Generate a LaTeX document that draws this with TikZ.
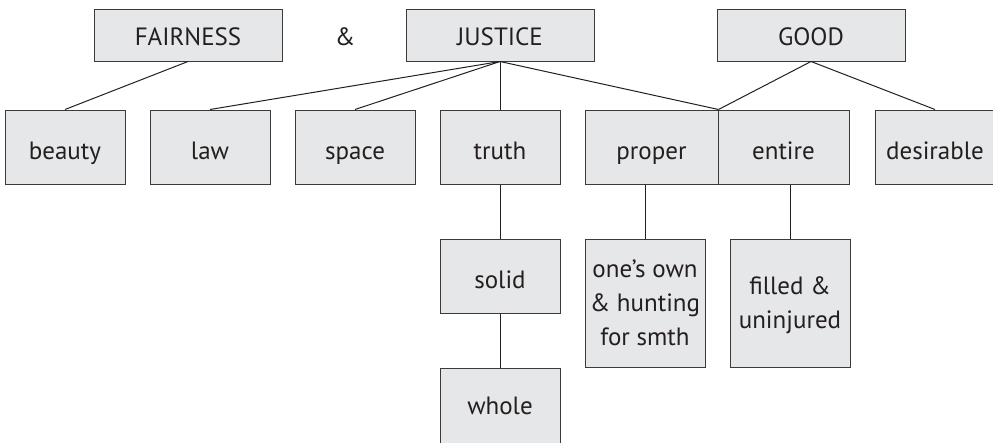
\documentclass[tikz,border=0pt]{standalone}
\usepackage{fontspec}
\setmainfont{PT Sans}
\definecolor{boxfill}{HTML}{E6E7E8}
\definecolor{boxline}{HTML}{3A3A3B}
\definecolor{ink}{HTML}{231F20}
\tikzset{
    basebox/.style={draw=boxline, fill=boxfill, line width=1pt, rectangle, text=ink,
        minimum width=120pt, inner sep=0pt, align=center,
        font=\fontsize{25}{34}\selectfont},
    wordbox/.style={basebox, minimum height=74pt, text height=24pt, text depth=0pt},
    headbox/.style={basebox, minimum width=188pt, minimum height=52pt, text height=22pt, text depth=2pt},
    tallbox/.style={basebox, minimum height=128pt, text depth=0pt},
    link/.style={draw=ink, line width=1pt}
}
\begin{document}
\begin{tikzpicture}[x=1pt, y=-1pt]
    \useasboundingbox (0,0) rectangle (993,442);
    % top row
    \node[headbox] (fairness) at (188,35) {FAIRNESS};
    \node[text=ink, font=\fontsize{25}{34}\selectfont, text height=22pt, text depth=2pt] (amp) at (345,35) {\&};
    \node[headbox] (justice) at (500,35) {JUSTICE};
    \node[headbox] (good) at (811,35) {GOOD};
    % middle row
    \node[wordbox] (beauty) at (65,147) {beauty};
    \node[wordbox] (law) at (210,147) {law};
    \node[wordbox] (space) at (355,147) {space};
    \node[wordbox] (truth) at (500,147) {truth};
    \node[wordbox, minimum width=133pt] (proper) at (651.5,147) {proper};
    \node[wordbox, minimum width=131pt] (entire) at (783.5,147) {entire};
    \node[wordbox] (desirable) at (935,147) {desirable};
    % lower rows
    \node[wordbox] (solid) at (500,276) {solid};
    \node[wordbox, minimum height=84pt] (whole) at (500,410) {\raisebox{8pt}{whole}};
    \node[tallbox] (own) at (645,303) {one’s own\\\& hunting\\for smth};
    \node[tallbox] (filled) at (790,303) {filled \&\\uninjured};
    % links
    \path (fairness.south) edge[link] (beauty.north);
    \path (justice.south) edge[link] (law.north);
    \path (justice.south) edge[link] (space.north);
    \path (justice.south) edge[link] (truth.north);
    \path (justice.south) edge[link] (proper.north east);
    \path (good.south) edge[link] (proper.north east);
    \path (good.south) edge[link] (desirable.north);
    \path (truth.south) edge[link] (solid.north);
    \path (solid.south) edge[link] (whole.north);
    \path (own.north) edge[link] (own.north |- proper.south);
    \path (filled.north) edge[link] (filled.north |- entire.south);
\end{tikzpicture}
\end{document}
